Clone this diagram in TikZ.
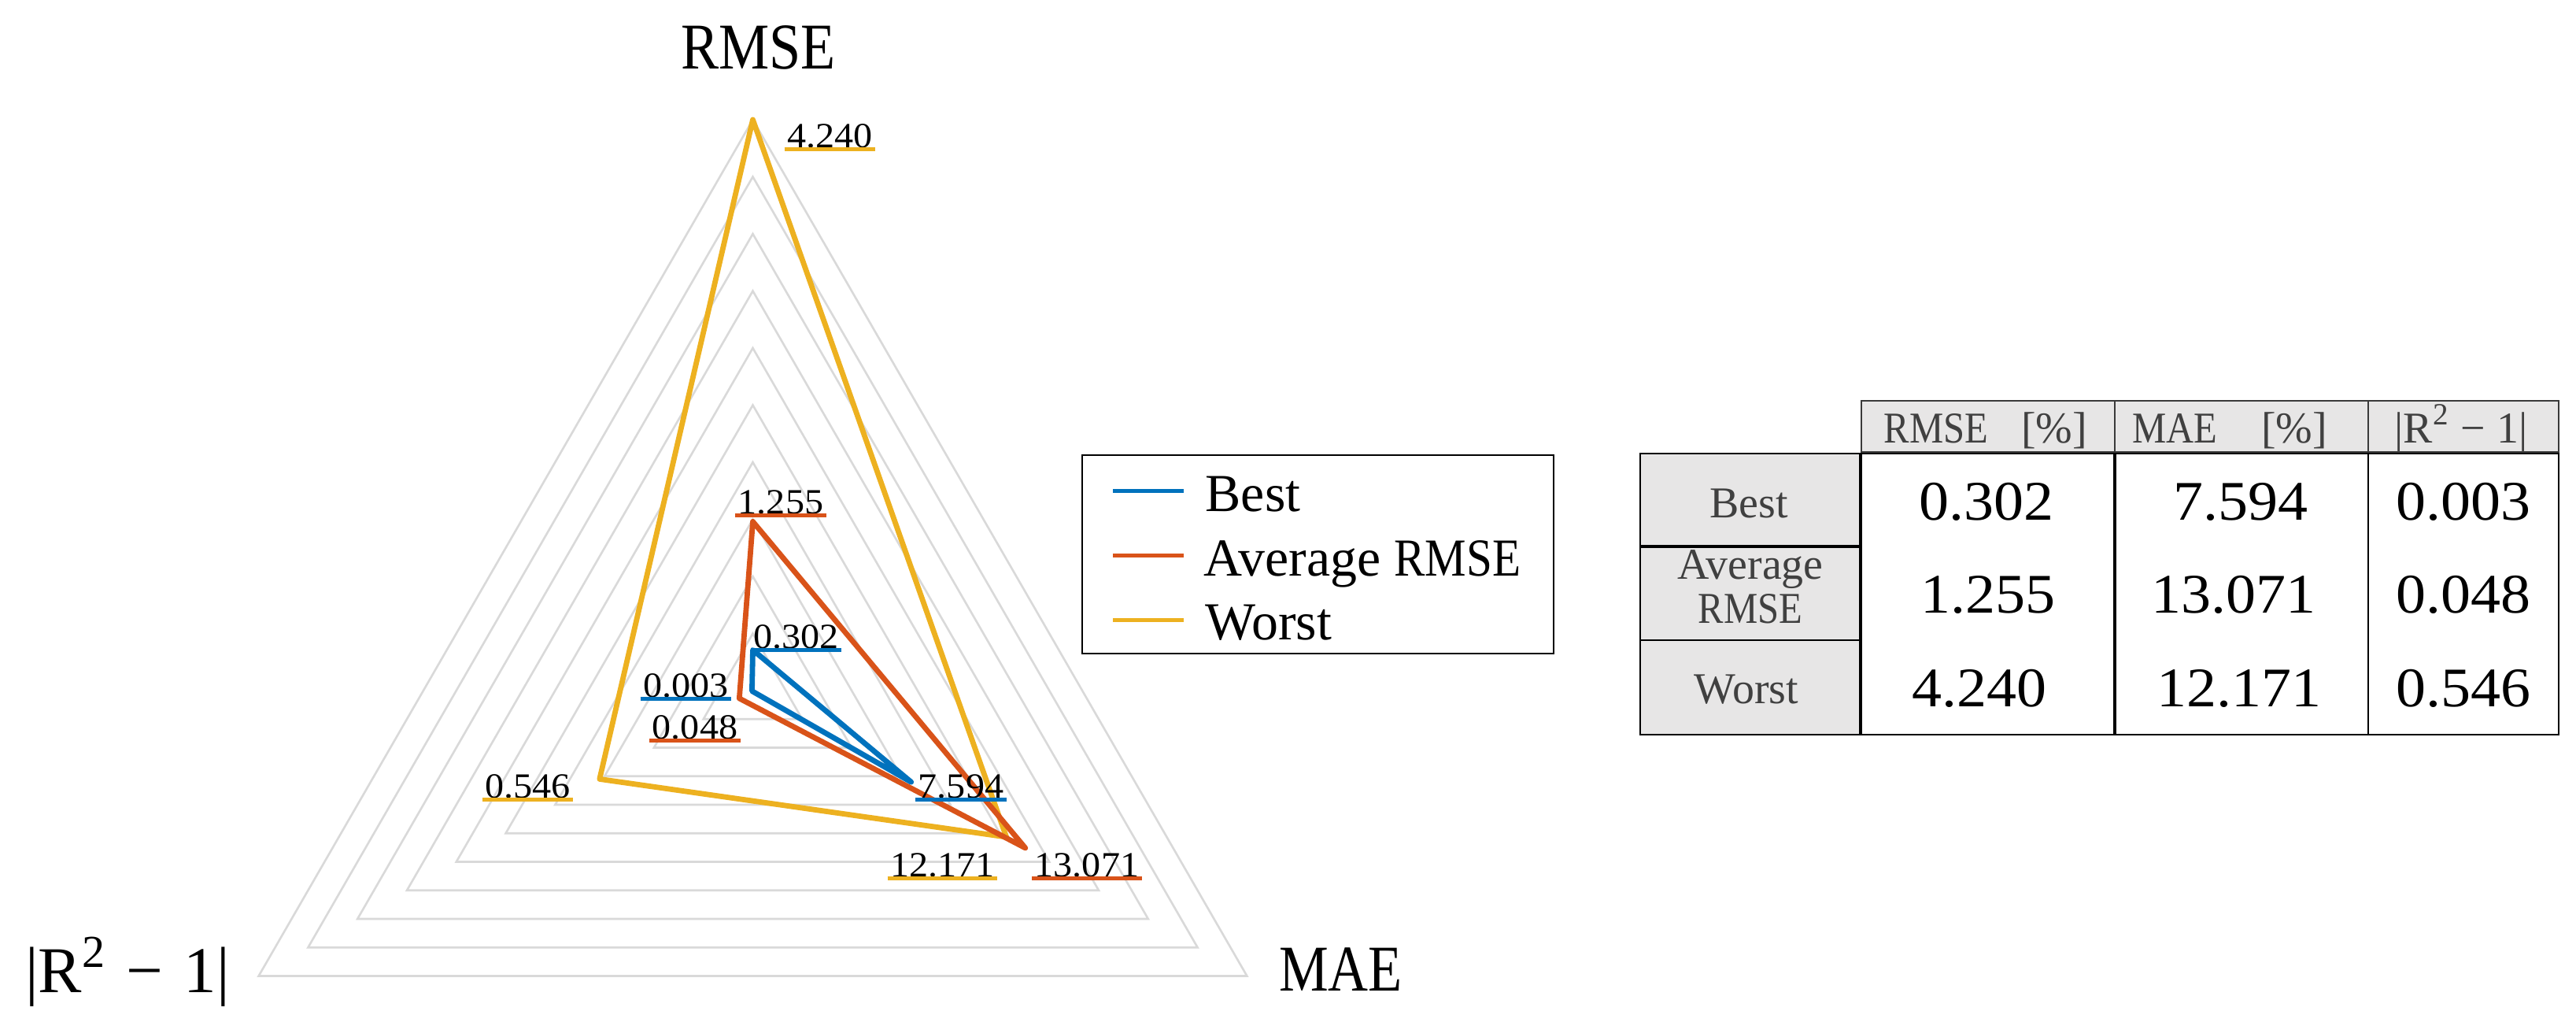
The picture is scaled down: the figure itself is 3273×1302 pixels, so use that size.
\documentclass[tikz,border=0pt]{standalone}
\usepackage{fontspec}
\setmainfont{Liberation Serif}
\usepackage{graphicx}
\definecolor{cbest}{HTML}{0072BD}
\definecolor{cavg}{HTML}{D95319}
\definecolor{cworst}{HTML}{EDB120}
\definecolor{gridgray}{HTML}{D9D9D9}
\definecolor{cellgray}{HTML}{E7E6E6}
\definecolor{txtgray}{HTML}{404040}
\definecolor{hdrline}{HTML}{3A3A3A}
\newcommand\capsq[1]{\scalebox{0.87}[1]{#1}}
\newcommand\numst[1]{\scalebox{1.07}[1]{#1}}
\newcommand\fsz[1]{\fontsize{#1}{#1}\selectfont}
\begin{document}
\begin{tikzpicture}[x=0.01cm,y=-0.01cm,
  gridline/.style={draw=gridgray, line width=0.26mm, line join=miter},
  series/.style={line width=0.68mm, line join=round},
  dlabel/.style={inner sep=0pt, anchor=base, font=\fsz{12.8}},
  axlabel/.style={inner sep=0pt, anchor=base, font=\fsz{23.6}},
  uline/.style={line width=0.45mm},
  legbox/.style={draw=black, fill=white, line width=0.25mm},
  legline/.style={line width=0.5mm},
  legtext/.style={inner sep=0pt, anchor=base west, font=\fsz{19.3}},
  hdrcell/.style={fill=cellgray, draw=hdrline, line width=0.22mm},
  labcell/.style={fill=cellgray, draw=black, line width=0.25mm},
  bodycell/.style={fill=white, draw=black, line width=0.25mm},
  thicksep/.style={draw=black, line width=0.38mm},
  thinsep/.style={draw=black, line width=0.25mm},
  hdrtext/.style={inner sep=0pt, anchor=base, text=txtgray, font=\fsz{15.9}},
  valtext/.style={inner sep=0pt, anchor=base, text=black, font=\fsz{20.2}}
]
\useasboundingbox (0,0) rectangle (3273,1302);
\fill[white] (0,0) rectangle (3273,1302);

% ---------------- radar chart ----------------
\begin{scope}[shift={(956.5,877)}]
  \foreach \k in {1,...,10}{
    \draw[gridline] (270:72.5*\k) -- (30:72.5*\k) -- (150:72.5*\k) -- cycle;
  }
  \coordinate (W1) at (270:725);
  \coordinate (W2) at (30:372);
  \coordinate (W3) at (150:224.8);
  \coordinate (A1) at (270:214.6);
  \coordinate (A2) at (30:399.8);
  \coordinate (A3) at (150:19.8);
  \coordinate (B1) at (270:51.6);
  \coordinate (B2) at (30:232.3);
  \coordinate (B3) at (150:1.2);
  \draw[series, cworst] (W1) -- (W2) -- (W3) -- cycle;
  \draw[series, cavg] (A1) -- (A2) -- (A3) -- cycle;
  \draw[series, cbest] (B1) -- (B2) -- (B3) -- cycle;
\end{scope}

% axis labels
\node[axlabel] (axR) at (963.5,87) {\capsq{RMSE}};
\node[axlabel] (axM) at (1703.5,1258) {\scalebox{0.85}[1]{MAE}};
\node[axlabel] (axQ) at (162,1260) {|R\textsuperscript{2}\hspace{2.6mm}−\hspace{2.6mm}1|};

% data labels with coloured underlines
\node[dlabel] (l4240) at (1054.5,187) {\numst{4.240}};
\node[dlabel] (l1255) at (992,652) {\numst{1.255}};
\node[dlabel] (l0302) at (1011.5,823) {\numst{0.302}};
\node[dlabel] (l0003) at (871.5,885) {\numst{0.003}};
\node[dlabel] (l0048) at (883,938) {\numst{0.048}};
\node[dlabel] (l7594) at (1221,1013) {\numst{7.594}};
\node[dlabel] (l0546) at (670.5,1013) {\numst{0.546}};
\node[dlabel] (l12171) at (1197.5,1113) {\numst{12.171}};
\node[dlabel] (l13071) at (1381,1113) {\numst{13.071}};
\foreach \n/\c in {l4240/cworst, l1255/cavg, l0302/cbest, l0003/cbest, l0048/cavg,
                   l7594/cbest, l0546/cworst, l12171/cworst, l13071/cavg}{
  \draw[uline, \c] ([shift={(-3,2.5)}]\n.base west) -- ([shift={(3,2.5)}]\n.base east);
}

% ---------------- legend ----------------
\draw[legbox] (1375,578) rectangle (1974,830);
\coordinate (lgb1) at (1414,623); \coordinate (lgb2) at (1504,623);
\coordinate (lga1) at (1414,705); \coordinate (lga2) at (1504,705);
\coordinate (lgw1) at (1414,787); \coordinate (lgw2) at (1504,787);
\draw[legline, cbest] (lgb1) -- (lgb2);
\draw[legline, cavg] (lga1) -- (lga2);
\draw[legline, cworst] (lgw1) -- (lgw2);
\node[legtext] (tBest) at (1531,649) {Best};
\node[legtext] (tAvg) at (1529,731) {Average \capsq{RMSE}};
\node[legtext] (tWorst) at (1531,812) {Worst};

% ---------------- table ----------------
% header row
\draw[hdrcell] (2365,509) rectangle (3251,574);
\draw[draw=hdrline, line width=0.22mm] (2687,509) -- (2687,574);
\draw[draw=hdrline, line width=0.22mm] (3009,509) -- (3009,574);
\node[hdrtext] (hRMSE) at (2523,562) {\capsq{RMSE}\hspace{4.2mm}[\%]};
\node[hdrtext] (hMAE) at (2833,562) {\capsq{MAE}\hspace{5.6mm}[\%]};
\node[hdrtext] (hR2) at (3127,562) {|R\textsuperscript{2} − 1|};
% row label column
\draw[labcell] (2084,576) rectangle (2363,933);
\draw[thicksep] (2084,694) -- (2363,694);
\draw[thinsep] (2084,813) -- (2363,813);
\node[hdrtext] (rBest) at (2222,657) {Best};
\node[hdrtext] (rAvg1) at (2224,735) {Average};
\node[hdrtext] (rAvg2) at (2224,791) {\capsq{RMSE}};
\node[hdrtext] (rWorst) at (2219,893) {Worst};
% body
\draw[bodycell] (2365,576) rectangle (3251,933);
\draw[thicksep] (2687,576) -- (2687,933);
\draw[thinsep] (3009,576) -- (3009,933);
\node[valtext] (v11) at (2524,660) {\numst{0.302}};
\node[valtext] (v12) at (2847,660) {\numst{7.594}};
\node[valtext] (v13) at (3130,660) {\numst{0.003}};
\node[valtext] (v21) at (2526,778) {\numst{1.255}};
\node[valtext] (v22) at (2838,778) {\numst{13.071}};
\node[valtext] (v23) at (3130,778) {\numst{0.048}};
\node[valtext] (v31) at (2515,897) {\numst{4.240}};
\node[valtext] (v32) at (2845,897) {\numst{12.171}};
\node[valtext] (v33) at (3130,897) {\numst{0.546}};
\end{tikzpicture}
\end{document}
